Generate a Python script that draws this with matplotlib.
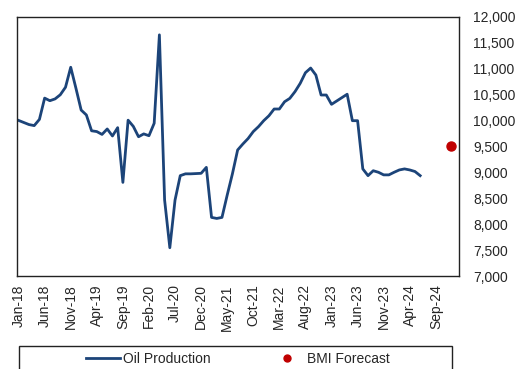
import matplotlib
matplotlib.use("Agg")
import matplotlib.pyplot as plt
from matplotlib.lines import Line2D
from matplotlib.patches import Rectangle
import pandas as pd

plt.rcParams["font.family"] = ["Liberation Sans", "DejaVu Sans"]

# Monthly oil production, Jan-18 onward
start_month = "2018-01"
oil_production = [
    10000, 9960, 9920, 9900, 10020, 10430, 10380, 10415, 10495, 10640, 11025, 10620,
    10200, 10105, 9800, 9785, 9730, 9835, 9700, 9860, 8805, 10005, 9885, 9685,
    9740, 9705, 9945, 11650, 8465, 7545, 8465, 8935, 8970, 8970, 8975, 8980,
    9095, 8130, 8110, 8130, 8560, 8970, 9430, 9545, 9650, 9785, 9880, 9995,
    10090, 10220, 10220, 10360, 10425, 10555, 10715, 10920, 11010, 10875, 10490, 10490,
    10310, 10375, 10440, 10505, 9995, 9995, 9065, 8935, 9030, 9000, 8950, 8950,
    9000, 9045, 9065, 9045, 9015, 8935,
]
forecast_month = "2024-12"
forecast_value = [9500]

y_ticks = [7000, 7500, 8000, 8500, 9000, 9500, 10000, 10500, 11000, 11500, 12000]
tick_step = 5  # months between x tick labels
n_months = 84

months = pd.date_range(start_month, periods=n_months, freq="MS")
month_idx = {d: i for i, d in enumerate(months)}
x_oil = list(range(len(oil_production)))
x_fc = [month_idx[pd.Timestamp(forecast_month)]]

fig = plt.figure(figsize=(5.24, 3.69), dpi=100)
ax = fig.add_axes([17 / 524, 1 - 276 / 369, 442.3 / 524, 259.3 / 369])

line_color = "#1c4479"
dot_color = "#c00000"
text_color = "#262626"

ax.plot(x_oil, oil_production, color=line_color, lw=2.0, solid_joinstyle="round")
ax.plot(x_fc, forecast_value, "o", color=dot_color, ms=6.5, mec=dot_color)

ax.set_ylim(7000, 12000)
ax.set_xlim(-0.3, 84.5)
ax.yaxis.tick_right()
ax.set_yticks(y_ticks)
ax.set_yticklabels([f"{v:,}" for v in y_ticks])
tick_pos = list(range(0, 81, tick_step))
ax.set_xticks(tick_pos)
ax.set_xticklabels([months[i].strftime("%b-%y") for i in tick_pos], rotation=90)
ax.tick_params(axis="both", length=0, labelsize=10, colors=text_color)
ax.tick_params(axis="y", pad=10)
ax.tick_params(axis="x", pad=6)
for s in ax.spines.values():
    s.set_color("#222222")
    s.set_linewidth(1.0)

handles = [
    Line2D([], [], color=line_color, lw=2.0),
    Line2D([], [], ls="", marker="o", color=dot_color, ms=5),
]
leg = fig.legend(handles, ["Oil Production", "BMI Forecast"], loc="center",
                 bbox_to_anchor=(238 / 524, 1 - 359 / 369), ncol=2, frameon=False,
                 fontsize=10, handlelength=2.45, handletextpad=0.2, columnspacing=4.3,
                 borderpad=0)
for t in leg.get_texts():
    t.set_color(text_color)
fig.patches.append(Rectangle((19.3 / 524, -0.05), 432.4 / 524, 0.05 + (369 - 346) / 369,
                             transform=fig.transFigure, fill=False,
                             edgecolor="#222222", lw=1.0))

fig.savefig("out.png", dpi=100)
